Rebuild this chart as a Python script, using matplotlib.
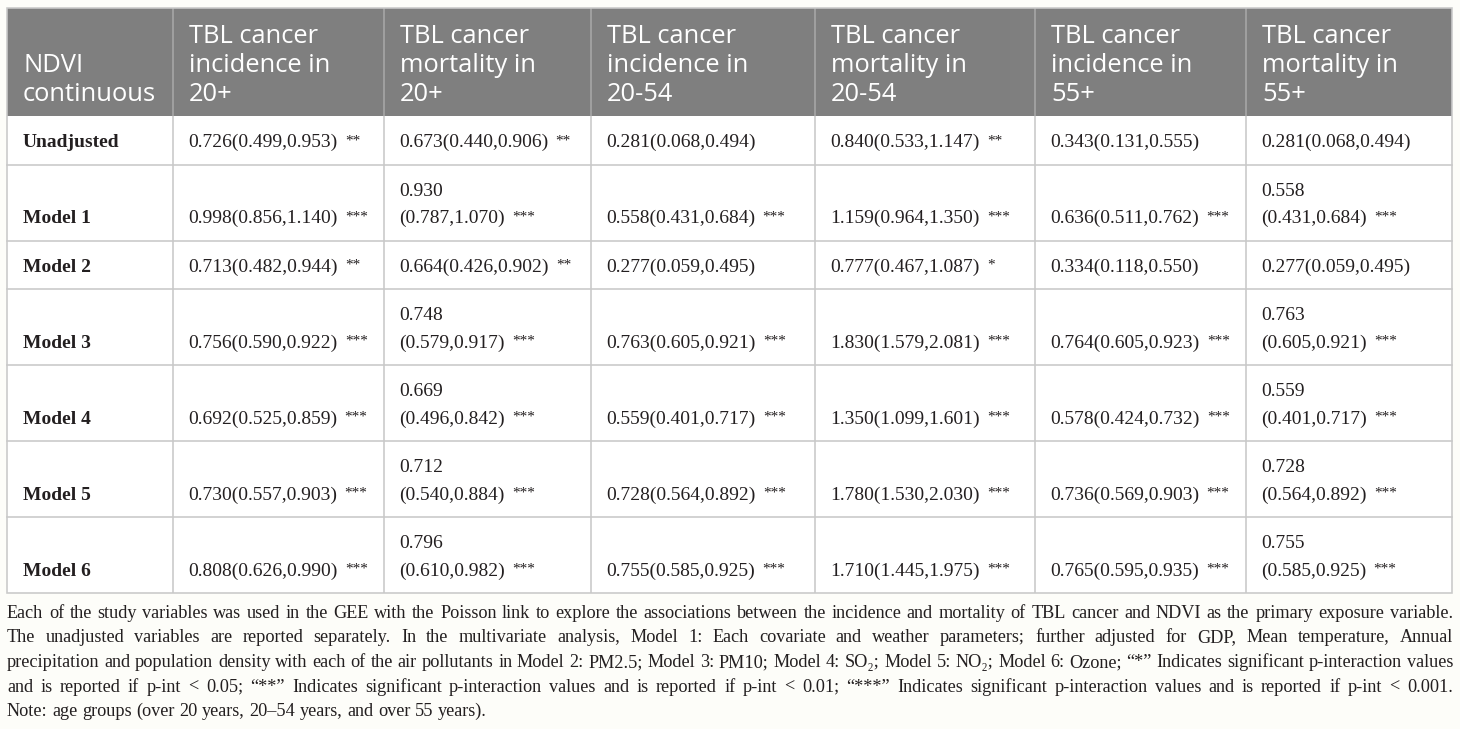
import matplotlib
matplotlib.use("Agg")
import matplotlib.pyplot as plt
from matplotlib.patches import Rectangle

# ---------------- data ----------------
col_headers = ["NDVI\ncontinuous",
               "TBL cancer\nincidence in\n20+",
               "TBL cancer\nmortality in\n20+",
               "TBL cancer\nincidence in\n20-54",
               "TBL cancer\nmortality in\n20-54",
               "TBL cancer\nincidence in\n55+",
               "TBL cancer\nmortality in\n55+"]

row_labels = ["Unadjusted", "Model 1", "Model 2", "Model 3", "Model 4", "Model 5", "Model 6"]

inc_20p   = ["0.726(0.499,0.953)", "0.998(0.856,1.140)", "0.713(0.482,0.944)", "0.756(0.590,0.922)",
             "0.692(0.525,0.859)", "0.730(0.557,0.903)", "0.808(0.626,0.990)"]
inc_20p_s = ["**", "***", "**", "***", "***", "***", "***"]

mort_20p   = ["0.673(0.440,0.906)", "0.930(0.787,1.070)", "0.664(0.426,0.902)", "0.748(0.579,0.917)",
              "0.669(0.496,0.842)", "0.712(0.540,0.884)", "0.796(0.610,0.982)"]
mort_20p_s = ["**", "***", "**", "***", "***", "***", "***"]

inc_2054   = ["0.281(0.068,0.494)", "0.558(0.431,0.684)", "0.277(0.059,0.495)", "0.763(0.605,0.921)",
              "0.559(0.401,0.717)", "0.728(0.564,0.892)", "0.755(0.585,0.925)"]
inc_2054_s = ["", "***", "", "***", "***", "***", "***"]

mort_2054   = ["0.840(0.533,1.147)", "1.159(0.964,1.350)", "0.777(0.467,1.087)", "1.830(1.579,2.081)",
               "1.350(1.099,1.601)", "1.780(1.530,2.030)", "1.710(1.445,1.975)"]
mort_2054_s = ["**", "***", "*", "***", "***", "***", "***"]

inc_55p   = ["0.343(0.131,0.555)", "0.636(0.511,0.762)", "0.334(0.118,0.550)", "0.764(0.605,0.923)",
             "0.578(0.424,0.732)", "0.736(0.569,0.903)", "0.765(0.595,0.935)"]
inc_55p_s = ["", "***", "", "***", "***", "***", "***"]

mort_55p   = ["0.281(0.068,0.494)", "0.558(0.431,0.684)", "0.277(0.059,0.495)", "0.763(0.605,0.921)",
              "0.559(0.401,0.717)", "0.728(0.564,0.892)", "0.755(0.585,0.925)"]
mort_55p_s = ["", "***", "", "***", "***", "***", "***"]

caption_lines = [
    "Each of the study variables was used in the GEE with the Poisson link to explore the associations between the incidence and mortality of TBL cancer and NDVI as the primary exposure variable.",
    "The unadjusted variables are reported separately. In the multivariate analysis, Model 1: Each covariate and weather parameters; further adjusted for GDP, Mean temperature, Annual",
    "precipitation and population density with each of the air pollutants in Model 2: PM2.5; Model 3: PM10; Model 4: SO\u2082; Model 5: NO\u2082; Model 6: Ozone; \u201c*\u201d Indicates significant p-interaction values",
    "and is reported if p-int < 0.05; \u201c**\u201d Indicates significant p-interaction values and is reported if p-int < 0.01; \u201c***\u201d Indicates significant p-interaction values and is reported if p-int < 0.001.",
    "Note: age groups (over 20 years, 20\u201354 years, and over 55 years).",
]

# ---------------- layout / style ----------------
values = [inc_20p, mort_20p, inc_2054, mort_2054, inc_55p, mort_55p]
stars = [inc_20p_s, mort_20p_s, inc_2054_s, mort_2054_s, inc_55p_s, mort_55p_s]
wrap_cols = [1, 5]          # narrow data columns where long entries wrap

W, H = 1460, 729
BG = "#fdfdf9"
HEAD_BG = "#7f7f7f"
GRID = "#c9c9c9"
HEAD_SEP = "#a8a8a8"
TXT = "#231f20"
SERIF = ["Liberation Serif", "DejaVu Serif"]
SANS = ["Open Sans", "DejaVu Sans"]

col_edges = [7, 173, 384, 591, 815, 1035, 1246, 1452]
top = 8
header_h = 108
single_h = 48.5
line_pitch = 27.5
pad_x = 15
body_fs = 14
star_fs = 11
head_fs = 18.4
head_pitch = 29

fig = plt.figure(figsize=(W / 100, H / 100), dpi=100)
fig.patch.set_facecolor(BG)
ax = fig.add_axes([0, 0, 1, 1])
ax.set_xlim(0, W)
ax.set_ylim(H, 0)
ax.axis("off")
renderer = fig.canvas.get_renderer()


def pw(px):
    return px * 72 / 100


# cell lines for each row
cell_lines = []
for r in range(len(row_labels)):
    row = []
    for c in range(len(values)):
        v = values[c][r]
        s = stars[c][r]
        if c in wrap_cols and s == "***":
            row.append([v[:5], v[5:]])
        else:
            row.append([v])
    cell_lines.append(row)

n_lines = [max(len(x) for x in row) for row in cell_lines]
row_h = [single_h + line_pitch * (n - 1) for n in n_lines]

header_bottom = top + header_h
row_edges = [header_bottom]
for h in row_h:
    row_edges.append(row_edges[-1] + h)
table_bottom = row_edges[-1]

# backgrounds
ax.add_patch(Rectangle((col_edges[0], top), col_edges[-1] - col_edges[0], table_bottom - top,
                       facecolor="white", edgecolor="none", zorder=0))
ax.add_patch(Rectangle((col_edges[0], top), col_edges[-1] - col_edges[0], header_h,
                       facecolor=HEAD_BG, edgecolor="none", zorder=1))

# grid lines
lw = pw(1.6)
for x in col_edges[1:-1]:
    ax.plot([x, x], [top, header_bottom], color=HEAD_SEP, lw=lw, zorder=2, solid_capstyle="butt")
    ax.plot([x, x], [header_bottom, table_bottom], color=GRID, lw=lw, zorder=2, solid_capstyle="butt")
for y in row_edges[1:-1]:
    ax.plot([col_edges[0], col_edges[-1]], [y, y], color=GRID, lw=lw, zorder=2)
ax.add_patch(Rectangle((col_edges[0], top), col_edges[-1] - col_edges[0], table_bottom - top,
                       facecolor="none", edgecolor=GRID, lw=lw, zorder=3))

# header text
for c, txt in enumerate(col_headers):
    lines = txt.split("\n")
    for k, ln in enumerate(reversed(lines)):
        yb = header_bottom - 15 - head_pitch * k
        ax.text(col_edges[c] + pad_x + 1, yb, ln, fontsize=head_fs, family=SANS,
                color="white", va="baseline", ha="left", zorder=4)

# body
for r, lab in enumerate(row_labels):
    bottom = row_edges[r + 1]
    yb = bottom - 17.5
    ax.text(col_edges[0] + 16, yb, lab, fontsize=body_fs, family=SERIF, weight="bold",
            color=TXT, va="baseline", ha="left", zorder=4)
    for c in range(len(values)):
        lines = cell_lines[r][c]
        x0 = col_edges[c + 1] + pad_x
        last_t = None
        for k, ln in enumerate(reversed(lines)):
            t = ax.text(x0, yb - line_pitch * k, ln, fontsize=body_fs, family=SERIF,
                        color=TXT, va="baseline", ha="left", zorder=4)
            if k == 0:
                last_t = t
        s = stars[c][r]
        if s:
            wlast = last_t.get_window_extent(renderer).width
            ax.text(x0 + wlast + 7.5, yb - 2.5, s, fontsize=star_fs, family=SERIF,
                    color=TXT, va="baseline", ha="left", zorder=4)

# caption, justified
cap_left, cap_right = col_edges[0], col_edges[-1] + 1
trial = 12.0
nat = []
for ln in caption_lines[:4]:
    t = ax.text(0, 0, ln, fontsize=trial, family=SERIF)
    nat.append(t.get_window_extent(renderer).width)
    t.remove()
cap_fs = min(13.6, trial * (cap_right - cap_left) / max(nat) * 0.995)

cap_baselines = [618, 642.5, 667, 691.5, 716]
for i, ln in enumerate(caption_lines):
    words = ln.split(" ")
    ts = [ax.text(0, cap_baselines[i], w, fontsize=cap_fs, family=SERIF, color=TXT,
                  va="baseline", ha="left") for w in words]
    widths = [t.get_window_extent(renderer).width for t in ts]
    if i < 4:
        gap = (cap_right - cap_left - sum(widths)) / (len(words) - 1)
    else:
        sp = ax.text(0, 0, "a a", fontsize=cap_fs, family=SERIF)
        sa = ax.text(0, 0, "aa", fontsize=cap_fs, family=SERIF)
        gap = sp.get_window_extent(renderer).width - sa.get_window_extent(renderer).width
        sp.remove(); sa.remove()
    x = cap_left
    for t, w in zip(ts, widths):
        t.set_x(x)
        x += w + gap

fig.savefig("out.png", dpi=100, facecolor=BG)
